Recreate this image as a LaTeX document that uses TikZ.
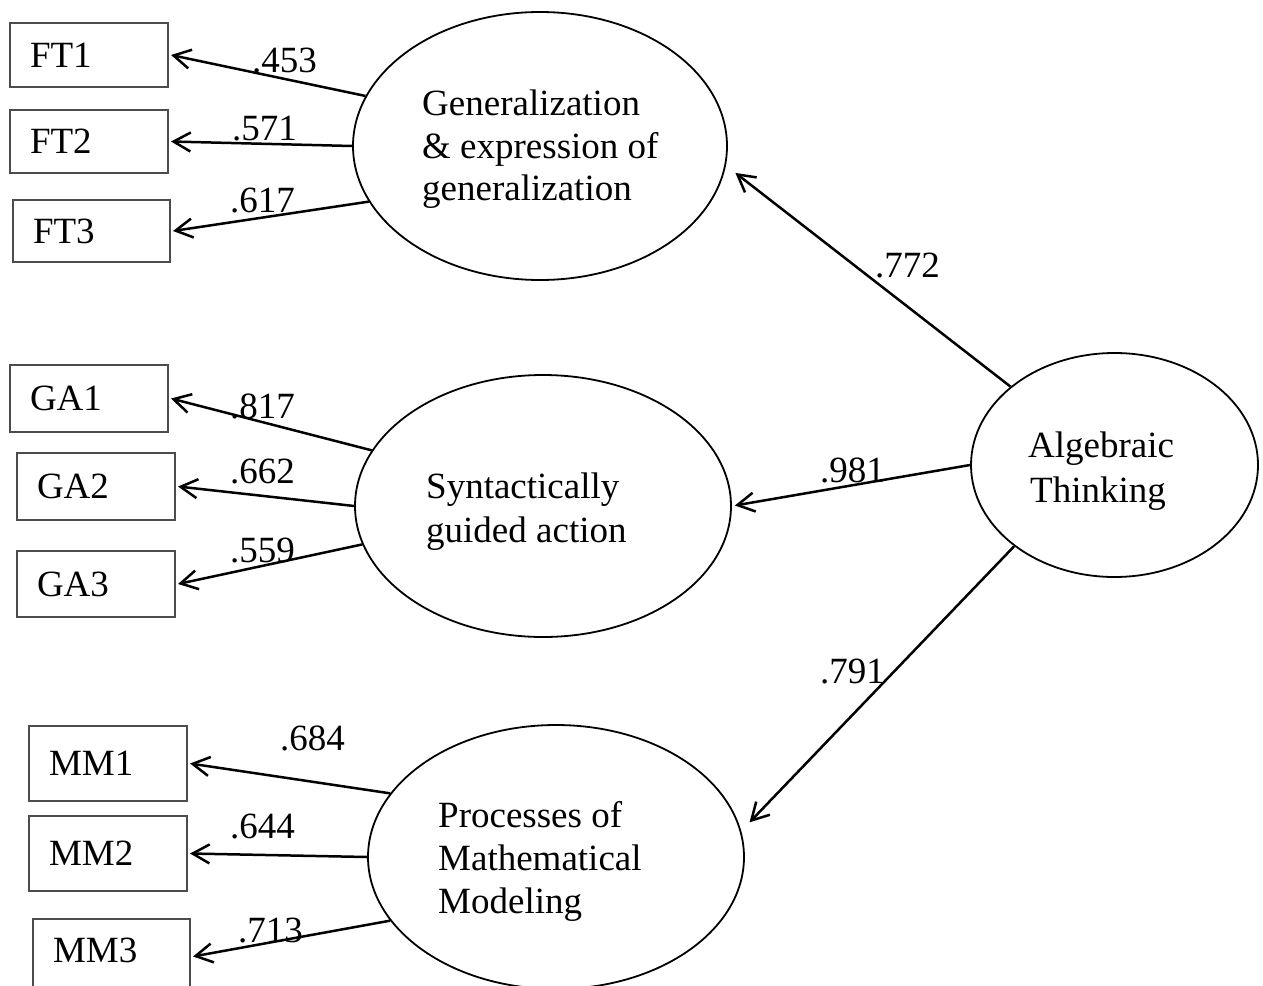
\documentclass[tikz,border=0pt]{standalone}
\usepackage{fontspec}
\setmainfont{Liberation Serif}
\usetikzlibrary{shapes.geometric,arrows.meta}
\begin{document}
\begin{tikzpicture}[x=1pt,y=-1pt,
  font=\fontsize{37}{43}\selectfont,
  lat/.style={ellipse, draw, line width=1.8pt, inner sep=0pt},
  obs/.style={rectangle, draw=black!70, line width=1.3pt, inner xsep=20pt, inner ysep=0pt, outer sep=3pt, align=left},
  txt/.style={anchor=base west, inner sep=0pt},
  coef/.style={anchor=base west, inner sep=0pt},
  conn/.style={line width=2.5pt, -{Straight Barb[length=17pt,width=19pt]}},
]
\useasboundingbox (0,0) rectangle (1263,985);
\clip (0,0) rectangle (1263,985);

% latent variables
\node[lat, minimum width=374pt, minimum height=268pt] (gen) at (540,146) {};
\node[lat, minimum width=376pt, minimum height=262pt] (syn) at (543,506) {};
\node[lat, minimum width=376pt, minimum height=264pt] (proc) at (556,857) {};
\node[lat, minimum width=287pt, minimum height=224pt] (alg) at (1114.5,465) {};

% latent labels
\node[txt] (gen1) at (422,115) {Generalization};
\node[txt] (gen2) at (422,158) {\& expression of};
\node[txt] (gen3) at (422,200) {generalization};
\node[txt] (syn1) at (426,498) {Syntactically};
\node[txt] (syn2) at (426,542) {guided action};
\node[txt] (proc1) at (438,827) {Processes of};
\node[txt] (proc2) at (438,870) {Mathematical};
\node[txt] (proc3) at (438,913) {Modeling};
\node[txt] (alg1) at (1028,457) {Algebraic};
\node[txt] (alg2) at (1030,502) {Thinking};

% observed variables
\node[obs, minimum width=158pt, minimum height=64pt, text width=118pt] (ft1) at (89,55) {FT1};
\node[obs, minimum width=158pt, minimum height=63pt, text width=118pt] (ft2) at (89,141.5) {FT2};
\node[obs, minimum width=157pt, minimum height=62pt, text width=117pt] (ft3) at (91.5,231) {FT3};
\node[obs, minimum width=158pt, minimum height=67pt, text width=118pt] (ga1) at (89,398.5) {GA1};
\node[obs, minimum width=158pt, minimum height=67pt, text width=118pt] (ga2) at (96,486.5) {GA2};
\node[obs, minimum width=158pt, minimum height=66pt, text width=118pt] (ga3) at (96,584) {GA3};
\node[obs, minimum width=158pt, minimum height=75pt, text width=118pt] (mm1) at (108,763.5) {MM1};
\node[obs, minimum width=158pt, minimum height=75pt, text width=118pt] (mm2) at (108,853.5) {MM2};
\node[obs, minimum width=157pt, minimum height=75pt, text width=117pt, text depth=13.5pt] (mm3) at (111.5,956.5) {MM3};

% connectors
\draw[conn] (gen.164) -- (ft1.east);
\draw[conn] (gen.west) -- (ft2.east);
\draw[conn] (gen.198) -- (ft3.east);
\draw[conn] (syn.162) -- (ga1.east);
\draw[conn] (syn.west) -- (ga2.east);
\draw[conn] (syn.192) -- (ga3.east);
\draw[conn] (proc.159) -- (mm1.east);
\draw[conn] (proc.west) -- (mm2.east);
\draw[conn] (proc.201) -- (mm3.east);
\draw[conn, shorten >=12pt] (alg.143) -- (gen.-6);
\draw[conn, shorten >=3pt] (alg.west) -- (syn.east);
\draw[conn, shorten >=12pt] (alg.219) -- (proc.8);

% coefficients
\node[coef] (c453) at (252,72) {.453};
\node[coef] (c571) at (232,140) {.571};
\node[coef] (c617) at (230,212) {.617};
\node[coef] (c817) at (230,418) {.817};
\node[coef] (c662) at (230,483) {.662};
\node[coef] (c559) at (230,562) {.559};
\node[coef] (c684) at (280,750) {.684};
\node[coef] (c644) at (230,838) {.644};
\node[coef] (c713) at (238,942) {.713};
\node[coef] (c772) at (875,277) {.772};
\node[coef] (c981) at (820,482) {.981};
\node[coef] (c791) at (820,683) {.791};
\end{tikzpicture}
\end{document}
